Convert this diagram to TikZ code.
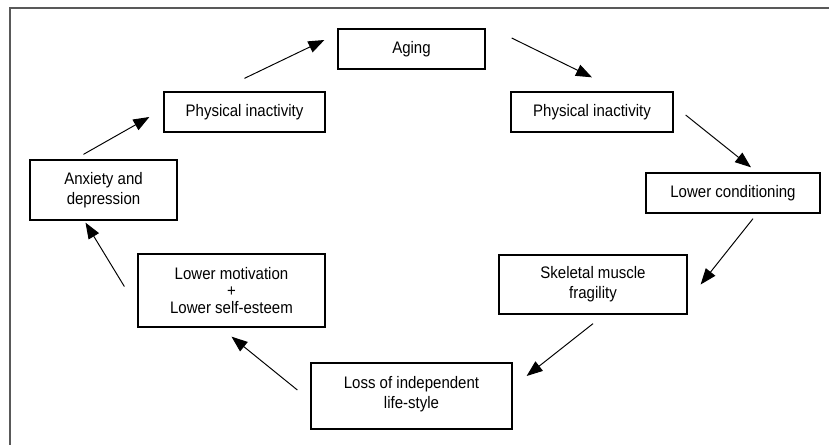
\documentclass[tikz,border=0pt]{standalone}
\usepackage{fontspec}
\setmainfont{Liberation Sans}[FakeStretch=0.9]
\usetikzlibrary{arrows.meta}

\begin{document}
\begin{tikzpicture}[x=0.02cm, y=-0.02cm, font=\fontsize{9.5}{11.4}\selectfont,
    >={Triangle[length=0.32cm, width=0.24cm]},
    stage/.style={draw=black, line width=0.75pt, align=center, inner sep=1pt},
    flow/.style={->, line width=0.55pt},
    frame/.style={draw=black!65, line width=0.6pt}]
        \useasboundingbox (0,0) rectangle (829,445);
        \draw[frame] (10,445) -- (10,8) -- (829,8);

        % the cycle, clockwise from the top
        \node[stage, minimum width=2.94cm, minimum height=0.80cm] (age) at (411.5,49) {Aging};
        \node[stage, minimum width=3.24cm, minimum height=0.80cm] (inactR) at (592,112) {Physical inactivity};
        \node[stage, minimum width=3.48cm, minimum height=0.80cm] (cond) at (733,193) {Lower conditioning};
        \node[stage, minimum width=3.76cm, minimum height=1.18cm] (musc) at (593,284.5) {Skeletal muscle\\fragility};
        \node[stage, minimum width=4.02cm, minimum height=1.32cm] (loss) at (411.5,396) {Loss of independent\\life-style\\[-7pt]};
        \node[stage, minimum width=3.74cm, minimum height=1.46cm] (motiv) at (231.5,290.5) {Lower motivation\\[-1.5pt]+\\[-1.5pt]Lower self-esteem};
        \node[stage, minimum width=2.94cm, minimum height=1.20cm] (anx) at (103.5,190) {Anxiety and\\depression};
        \node[stage, minimum width=3.22cm, minimum height=0.80cm] (inactL) at (244.5,112) {Physical inactivity};

        \draw[flow] ([shift={(26,-11)}]age.east) -- ([shift={(0,-14)}]inactR.north);
        \draw[flow] ([shift={(12,3)}]inactR.east) -- ([shift={(18,-5)}]cond.north);
        \draw[flow] ([shift={(20,5)}]cond.south) -- ([shift={(13,0)}]musc.east);
        \draw[flow] ([shift={(0,9)}]musc.south) -- ([shift={(14,-20)}]loss.east);
        \draw[flow] ([shift={(-13,-6)}]loss.west) -- ([shift={(0,9)}]motiv.south);
        \draw[flow] ([shift={(-13,-4)}]motiv.west) -- ([shift={(-18,2)}]anx.south);
        \draw[flow] ([shift={(-20,-5)}]anx.north) -- ([shift={(-14,5)}]inactL.west);
        \draw[flow] ([shift={(0,-13)}]inactL.north) -- ([shift={(-13,-9)}]age.west);
    \end{tikzpicture}
\end{document}
